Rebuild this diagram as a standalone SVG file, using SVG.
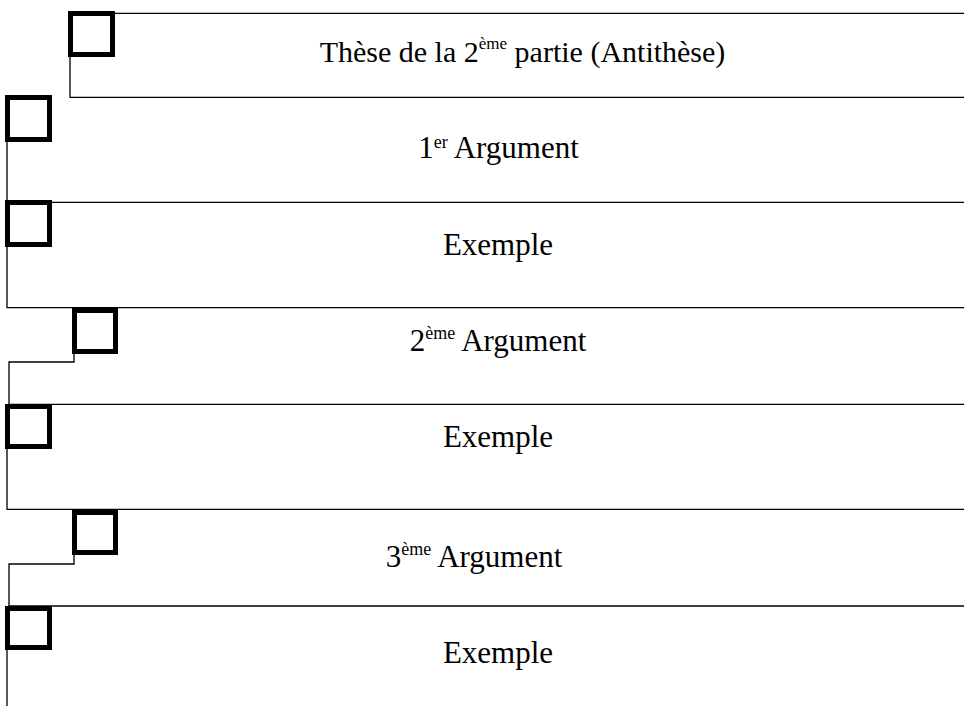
<svg xmlns="http://www.w3.org/2000/svg" width="964" height="706" viewBox="0 0 964 706">
<style>
.ln{stroke:#000;stroke-width:1.3;fill:none}
.bx{stroke:#000;stroke-width:5;fill:none}
text{font-family:"Liberation Serif","Times New Roman",serif;font-size:31px;fill:#000;text-anchor:middle}
.t{font-size:30px}
.sup{font-size:18px}
.t .sup{font-size:17px}
</style>
<rect width="964" height="706" fill="#fff"/>
<g id="connectors">
<path class="ln" d="M112,13.3H964"/>
<path class="ln" d="M70,57V97.3H964"/>
<path class="ln" d="M7,142V202.3M52,202.3H964"/>
<path class="ln" d="M7,247V307.7H964"/>
<path class="ln" d="M74,354V362H9V404.3H964"/>
<path class="ln" d="M7,449V509.3H964"/>
<path class="ln" d="M74,555V564H9V606H964"/>
<path class="ln" d="M7,650V706"/>
</g>
<g id="n1"><rect class="bx" x="70.5" y="13.5" width="42" height="41"/>
<text class="t" x="522.5" y="62">Thèse de la 2<tspan class="sup" dy="-13">ème</tspan><tspan dy="13"> partie (Antithèse)</tspan></text></g>
<g id="n2"><rect class="bx" x="7.5" y="97.5" width="42" height="42"/>
<text x="498.5" y="158">1<tspan class="sup" dy="-10">er</tspan><tspan dy="10"> Argument</tspan></text></g>
<g id="n3"><rect class="bx" x="7.5" y="202.5" width="42" height="42"/>
<text x="498" y="255">Exemple</text></g>
<g id="n4"><rect class="bx" x="74.5" y="310.5" width="41" height="41"/>
<text x="498" y="351">2<tspan class="sup" dy="-12">ème</tspan><tspan dy="12"> Argument</tspan></text></g>
<g id="n5"><rect class="bx" x="7.5" y="406.5" width="42" height="40"/>
<text x="498" y="447">Exemple</text></g>
<g id="n6"><rect class="bx" x="74.5" y="512.5" width="41" height="40"/>
<text x="474" y="567">3<tspan class="sup" dy="-12">ème</tspan><tspan dy="12"> Argument</tspan></text></g>
<g id="n7"><rect class="bx" x="7.5" y="608.5" width="42" height="39"/>
<text x="498" y="663">Exemple</text></g>
</svg>
